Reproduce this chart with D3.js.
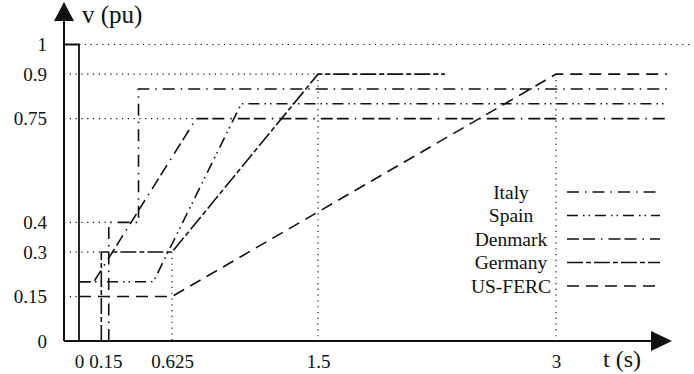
<!DOCTYPE html>
<html>
<head>
<meta charset="utf-8">
<script src="https://cdn.jsdelivr.net/npm/d3@7/dist/d3.min.js"></script>
<style>
  html, body { margin: 0; padding: 0; background: #fff; }
  svg { display: block; }
</style>
</head>
<body>
<svg id="chart" width="694" height="374"></svg>
<script>
// Low-voltage ride-through requirements (voltage in pu vs time in s)
const categories = ["Italy", "Spain", "Denmark", "Germany", "US-FERC"];

const italyT   = [0.2, 0.2, 0.4, 0.4, 3.7];
const italyV   = [0, 0.4, 0.4, 0.85, 0.85];
const spainT   = [0, 0.5, 1.04, 3.7];
const spainV   = [0.2, 0.2, 0.8, 0.8];
const denmarkT = [0, 0.1, 0.77, 3.7];
const denmarkV = [0.2, 0.2, 0.75, 0.75];
const germanyT = [0.15, 0.15, 0.625, 1.5, 2.3];
const germanyV = [0, 0.3, 0.3, 0.9, 0.9];
const fercT    = [0, 0.625, 3, 3.7];
const fercV    = [0.15, 0.15, 0.9, 0.9];

// pre-fault voltage stepping down to zero at t = 0
const faultT = [-0.1, 0, 0];
const faultV = [1, 1, 0];

const xTicks = [0, 0.15, 0.625, 1.5, 3];
const yTicks = [0, 0.15, 0.3, 0.4, 0.75, 0.9, 1];

// dotted reference lines: from (t0, v0) to (t1, v1)
const guideT0 = [0, -0.1, -0.1, -0.1, -0.1, -0.1, 0.625, 1.5, 3];
const guideT1 = [3.85, 1.5, 0.77, 0.2, 0.15, 0, 0.625, 1.5, 3];
const guideV0 = [1, 0.9, 0.75, 0.4, 0.3, 0.15, 0.3, 0.9, 0.9];
const guideV1 = [1, 0.9, 0.75, 0.4, 0.3, 0.15, 0, 0, 0];

const seriesT = [italyT, spainT, denmarkT, germanyT, fercT];
const seriesV = [italyV, spainV, denmarkV, germanyV, fercV];
const dashes = ["12 6 1.5 6", "11 5 1.5 4 1.5 5", "12 4 12 6 1.5 6", "16 3 5 3", "12 7"];

const FONT = "'Liberation Serif', 'Times New Roman', serif";
const svg = d3.select("#chart");
const ink = "#111";

// time axis is drawn piecewise so the labelled instants sit where they are marked
const x = d3.scaleLinear()
  .domain([-0.1, 0, 0.625, 1.5, 3])
  .range([64, 79, 172, 318, 556]);
const y = d3.scaleLinear().domain([0, 1]).range([341, 44.5]);

const line = d3.line().x(d => x(d[0])).y(d => y(d[1]));
const pts = (ts, vs) => ts.map((t, i) => [t, vs[i]]);

// dotted guides
guideT0.forEach((t0, i) => {
  svg.append("line")
    .attr("x1", x(t0)).attr("x2", x(guideT1[i]))
    .attr("y1", y(guideV0[i])).attr("y2", y(guideV1[i]))
    .attr("stroke", ink).attr("stroke-width", 1.2)
    .attr("stroke-dasharray", "1.2 4.6");
});

// fault voltage profile
svg.append("path")
  .attr("d", line(pts(faultT, faultV)))
  .attr("fill", "none").attr("stroke", ink).attr("stroke-width", 1.8);

// grid-code curves
seriesT.forEach((ts, i) => {
  svg.append("path")
    .attr("d", line(pts(ts, seriesV[i])))
    .attr("fill", "none").attr("stroke", ink)
    .attr("stroke-width", 1.6)
    .attr("stroke-dasharray", dashes[i]);
});

// axes with arrow heads
const x0 = x(-0.1), yBase = y(0);
svg.append("line").attr("x1", x0).attr("x2", 655).attr("y1", yBase).attr("y2", yBase)
  .attr("stroke", ink).attr("stroke-width", 2);
svg.append("line").attr("x1", x0).attr("x2", x0).attr("y1", yBase).attr("y2", 18)
  .attr("stroke", ink).attr("stroke-width", 2);
svg.append("path").attr("d", `M672,${yBase} L651,${yBase - 10} L651,${yBase + 10} Z`).attr("fill", ink);
svg.append("path").attr("d", `M${x0},2 L${x0 - 10},21 L${x0 + 10},21 Z`).attr("fill", ink);

const fmt = d => String(d);

const gx = svg.append("g").attr("transform", `translate(0,${yBase})`)
  .call(d3.axisBottom(x).tickValues(xTicks).tickSize(0).tickPadding(13.5).tickFormat(fmt));
gx.select(".domain").remove();
gx.selectAll("text").style("font-family", FONT).style("font-size", "19px").attr("fill", ink)
  .attr("dx", d => d === 0.15 ? 4 : 0);

const gy = svg.append("g").attr("transform", `translate(${x0},0)`)
  .call(d3.axisLeft(y).tickValues(yTicks).tickSize(0).tickPadding(17).tickFormat(fmt));
gy.select(".domain").remove();
gy.selectAll("text").style("font-family", FONT).style("font-size", "19px").attr("fill", ink);

// axis titles
svg.append("text").attr("x", 82).attr("y", 23)
  .style("font-family", FONT).style("font-size", "25px").attr("fill", ink).text("v (pu)");
svg.append("text").attr("x", 603).attr("y", 367)
  .style("font-family", FONT).style("font-size", "24px").attr("fill", ink).text("t (s)");

// legend
const legend = svg.append("g");
categories.forEach((name, i) => {
  const cy = 192 + i * 23.5;
  legend.append("text").attr("x", 511).attr("y", cy).attr("dy", "0.35em")
    .attr("text-anchor", "middle")
    .style("font-family", FONT).style("font-size", "19.5px").attr("fill", ink).text(name);
  legend.append("line").attr("x1", 567).attr("x2", 660).attr("y1", cy).attr("y2", cy)
    .attr("stroke", ink).attr("stroke-width", 1.6).attr("stroke-dasharray", dashes[i]);
});
</script>
</body>
</html>
